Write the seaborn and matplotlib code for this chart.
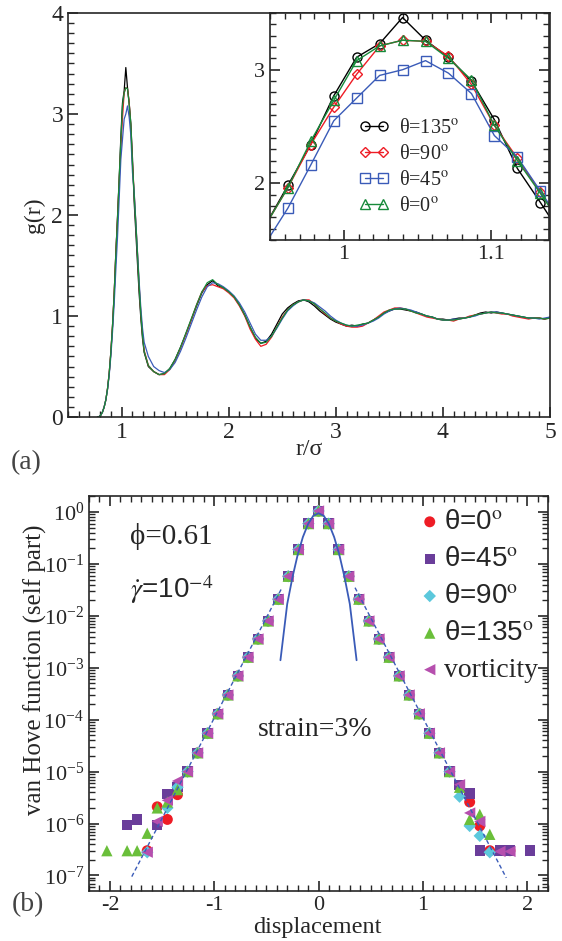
import numpy as np
import pandas as pd
import matplotlib
matplotlib.use("Agg")
import matplotlib.pyplot as plt
import seaborn as sns
from matplotlib.ticker import MultipleLocator, LogLocator, LogFormatterSciNotation, NullFormatter

# ---------------- data: panel (a) g(r) ----------------
r_head = [0.7755, 0.791, 0.8066, 0.8221, 0.8377, 0.8532, 0.8688, 0.8843, 0.8999, 0.9154, 0.931, 0.9465]
r_peak = [0.9621, 0.9776, 0.9932, 1.0087, 1.0243, 1.0398, 1.0554, 1.0709, 1.0865, 1.1020, 1.1176, 1.1332]
r_fall = [1.1487, 1.1643, 1.1798, 1.1954, 1.2110]
r_tail = [1.25, 1.30, 1.35, 1.40, 1.45, 1.50, 1.55, 1.60, 1.65, 1.70,
          1.75, 1.80, 1.85, 1.90, 1.95, 2.00, 2.05, 2.10, 2.15, 2.20,
          2.25, 2.30, 2.35, 2.40, 2.45, 2.50, 2.55, 2.60, 2.65, 2.70,
          2.75, 2.80, 2.85, 2.90, 2.95, 3.00, 3.05, 3.10, 3.15, 3.20,
          3.25, 3.30, 3.35, 3.40, 3.45, 3.50, 3.55, 3.60, 3.65, 3.70,
          3.75, 3.80, 3.85, 3.90, 3.95, 4.00, 4.05, 4.10, 4.15, 4.20,
          4.25, 4.30, 4.35, 4.40, 4.45, 4.50, 4.55, 4.60, 4.65, 4.70,
          4.75, 4.80, 4.85, 4.90, 4.95, 5.00]

g_head_135 = [0.0, 0.005, 0.02, 0.05, 0.10, 0.17, 0.28, 0.43, 0.64, 0.90, 1.22, 1.62]
g_head_90 = [0.0, 0.005, 0.02, 0.05, 0.10, 0.17, 0.28, 0.43, 0.64, 0.90, 1.22, 1.62]
g_head_45 = [0.0, 0.005, 0.02, 0.05, 0.10, 0.17, 0.27, 0.41, 0.60, 0.84, 1.12, 1.46]
g_head_0 = [0.0, 0.005, 0.02, 0.05, 0.10, 0.17, 0.28, 0.43, 0.64, 0.90, 1.22, 1.62]

g_peak_135 = [1.98, 2.34, 2.77, 3.11, 3.23, 3.46, 3.26, 3.11, 2.90, 2.56, 2.13, 1.83]
g_peak_90 = [1.96, 2.34, 2.67, 2.96, 3.21, 3.26, 3.25, 3.12, 2.87, 2.51, 2.22, 1.92]
g_peak_45 = [1.78, 2.16, 2.55, 2.75, 2.95, 3.00, 3.08, 2.97, 2.79, 2.42, 2.23, 1.93]
g_peak_0 = [1.96, 2.37, 2.73, 3.08, 3.21, 3.26, 3.25, 3.10, 2.91, 2.51, 2.20, 1.91]

g_fall_135 = [1.52, 1.22, 0.98, 0.78, 0.64]
g_fall_90 = [1.62, 1.30, 1.03, 0.82, 0.66]
g_fall_45 = [1.63, 1.34, 1.08, 0.88, 0.74]
g_fall_0 = [1.61, 1.29, 1.02, 0.81, 0.65]

g_tail_135 = [0.50, 0.45, 0.42, 0.43, 0.48, 0.57, 0.69, 0.82, 0.96, 1.10,
              1.23, 1.31, 1.35, 1.30, 1.28, 1.24, 1.19, 1.11, 1.01, 0.89,
              0.78, 0.73, 0.75, 0.82, 0.92, 1.02, 1.08, 1.12, 1.15, 1.16,
              1.14, 1.10, 1.05, 1.01, 0.97, 0.94, 0.92, 0.90, 0.91, 0.90,
              0.92, 0.93, 0.96, 0.99, 1.03, 1.05, 1.07, 1.07, 1.06, 1.05,
              1.04, 1.02, 1.00, 0.99, 0.97, 0.97, 0.96, 0.97, 0.98, 0.98,
              0.99, 1.01, 1.03, 1.04, 1.03, 1.04, 1.03, 1.02, 1.01, 1.00,
              0.99, 0.98, 0.98, 0.98, 0.97, 0.99]
g_tail_90 = [0.51, 0.45, 0.42, 0.42, 0.47, 0.56, 0.68, 0.82, 0.96, 1.11,
             1.24, 1.30, 1.31, 1.29, 1.27, 1.23, 1.18, 1.10, 1.00, 0.87,
             0.77, 0.70, 0.72, 0.79, 0.89, 0.99, 1.06, 1.11, 1.14, 1.16,
             1.16, 1.12, 1.07, 1.02, 0.98, 0.95, 0.92, 0.90, 0.89, 0.89,
             0.90, 0.93, 0.96, 1.00, 1.04, 1.06, 1.08, 1.08, 1.07, 1.05,
             1.03, 1.01, 0.99, 0.98, 0.97, 0.96, 0.96, 0.95, 0.97, 0.98,
             1.00, 1.01, 1.02, 1.03, 1.04, 1.03, 1.02, 1.02, 1.00, 0.99,
             0.98, 0.97, 0.98, 0.98, 0.97, 0.98]
g_tail_45 = [0.60, 0.50, 0.46, 0.44, 0.47, 0.54, 0.65, 0.78, 0.92, 1.06,
             1.19, 1.29, 1.33, 1.32, 1.29, 1.25, 1.20, 1.13, 1.04, 0.93,
             0.82, 0.76, 0.76, 0.80, 0.88, 0.97, 1.05, 1.10, 1.14, 1.16,
             1.15, 1.13, 1.09, 1.05, 1.00, 0.96, 0.93, 0.91, 0.90, 0.90,
             0.91, 0.93, 0.95, 0.98, 1.02, 1.05, 1.07, 1.08, 1.07, 1.06,
             1.04, 1.02, 1.00, 0.99, 0.97, 0.96, 0.96, 0.97, 0.97, 0.98,
             0.99, 1.00, 1.02, 1.03, 1.04, 1.04, 1.03, 1.02, 1.01, 1.00,
             0.99, 0.98, 0.98, 0.97, 0.98, 0.99]
g_tail_0 = [0.51, 0.45, 0.42, 0.43, 0.48, 0.57, 0.69, 0.83, 0.97, 1.11,
            1.24, 1.33, 1.36, 1.31, 1.28, 1.24, 1.19, 1.11, 1.01, 0.89,
            0.79, 0.73, 0.74, 0.80, 0.89, 0.98, 1.06, 1.11, 1.14, 1.16,
            1.15, 1.12, 1.07, 1.03, 0.98, 0.95, 0.93, 0.91, 0.90, 0.91,
            0.92, 0.93, 0.96, 0.99, 1.03, 1.06, 1.07, 1.07, 1.07, 1.05,
            1.03, 1.02, 1.00, 0.99, 0.97, 0.96, 0.96, 0.96, 0.97, 0.98,
            0.99, 1.01, 1.02, 1.03, 1.04, 1.03, 1.03, 1.02, 1.01, 1.00,
            0.99, 0.98, 0.98, 0.98, 0.97, 0.98]

gr_labels = ["θ=135", "θ=90", "θ=45", "θ=0"]
gr_colors = ["#000000", "#ee1c25", "#3a5bb8", "#178a3a"]
gr_markers = ["o", "D", "s", "^"]

# ---------------- data: panel (b) van Hove ----------------
center_x = [-1.256, -1.159, -1.063, -0.966, -0.869, -0.773, -0.676, -0.580, -0.483,
            -0.386, -0.290, -0.193, -0.097, 0.0, 0.097, 0.193, 0.290, 0.386,
            0.483, 0.580, 0.676, 0.773, 0.869, 0.966, 1.063, 1.159, 1.256]
center_y = [1.0e-5, 2.3e-5, 5.5e-5, 1.3e-4, 3.0e-4, 7.0e-4, 1.6e-3, 3.6e-3, 8.0e-3,
            2.1e-2, 5.8e-2, 0.19, 0.60, 1.05, 0.60, 0.19, 5.8e-2, 2.1e-2,
            8.0e-3, 3.6e-3, 1.6e-3, 7.0e-4, 3.0e-4, 1.3e-4, 5.5e-5, 2.3e-5, 1.0e-5]

tail_x_0 = [-1.642, -1.546, -1.449, -1.352, 1.352, 1.449, 1.546, 1.642, 1.835]
tail_y_0 = [3.0e-7, 2.1e-6, 1.2e-6, 3.6e-6, 5.2e-6, 2.6e-6, 9.0e-7, 3.0e-7, 3.0e-7]
tail_x_45 = [-1.835, -1.739, -1.546, -1.449, -1.352, 1.352, 1.449, 1.546, 1.739, 1.835, 2.029]
tail_y_45 = [9.5e-7, 1.2e-6, 9.5e-7, 3.7e-6, 5.0e-6, 5.5e-6, 3.8e-6, 3.0e-7, 3.0e-7, 3.0e-7, 3.0e-7]
tail_x_90 = [-1.642, -1.449, -1.352, 1.352, 1.449, 1.546, 1.642]
tail_y_90 = [2.8e-7, 2.0e-6, 5.0e-6, 3.3e-6, 9.0e-7, 5.8e-7, 2.8e-7]
tail_x_135 = [-2.029, -1.835, -1.739, -1.642, -1.546, -1.449, -1.352, 1.352, 1.449, 1.546, 1.642]
tail_y_135 = [3.0e-7, 3.0e-7, 3.0e-7, 6.5e-7, 2.0e-6, 2.6e-6, 4.5e-6, 5.0e-6, 1.2e-6, 1.5e-6, 6.2e-7]
tail_x_vort = [-1.642, -1.546, -1.449, -1.352, 1.352, 1.449, 1.546, 1.739, 1.835]
tail_y_vort = [2.8e-7, 1.1e-6, 2.8e-6, 6.6e-6, 5.6e-6, 1.6e-6, 1.1e-6, 2.9e-7, 2.9e-7]

vh_labels = ["θ=0", "θ=45", "θ=90", "θ=135", "vorticity"]
vh_colors = ["#ee1c25", "#6a3d9a", "#5cc8dc", "#6abf3a", "#b64fae"]
vh_markers = ["o", "s", "D", "^", "<"]

gauss_x = [-0.365, -0.30, -0.25, -0.20, -0.15, -0.10, -0.05, 0.0, 0.05, 0.10, 0.15, 0.20, 0.25, 0.30, 0.365]
gauss_y = [1.4e-3, 1.7e-2, 5.5e-2, 0.15, 0.33, 0.59, 0.85, 0.95, 0.85, 0.59, 0.33, 0.15, 5.5e-2, 1.7e-2, 1.4e-3]
expo_left_x = [-1.79, -0.35]
expo_left_y = [9.5e-8, 3.5e-2]
expo_right_x = [0.35, 1.80]
expo_right_y = [3.5e-2, 9.0e-8]

# ---------------- style ----------------
sns.set_style("ticks")
plt.rcParams["font.family"] = ["Liberation Serif", "DejaVu Serif"]
plt.rcParams["mathtext.fontset"] = "stix"
plt.rcParams["axes.unicode_minus"] = False
plt.rcParams["axes.linewidth"] = 1.2

SANS = ["Liberation Sans", "DejaVu Sans"]

fig = plt.figure(figsize=(5.62, 9.41), dpi=100)
ax1 = fig.add_axes([0.121, 0.5568, 0.8577, 0.4294])
axin = fig.add_axes([0.4804, 0.745, 0.4964, 0.2412])
ax2 = fig.add_axes([0.1584, 0.0531, 0.8167, 0.4198])

heads = [g_head_135, g_head_90, g_head_45, g_head_0]
peaks = [g_peak_135, g_peak_90, g_peak_45, g_peak_0]
falls = [g_fall_135, g_fall_90, g_fall_45, g_fall_0]
tails = [g_tail_135, g_tail_90, g_tail_45, g_tail_0]
r_all = r_head + r_peak + r_fall + r_tail

for lab, col, h, p, f, t in zip(gr_labels, gr_colors, heads, peaks, falls, tails):
    df = pd.DataFrame({"r": r_all, "g": h + p + f + t})
    sns.lineplot(data=df, x="r", y="g", ax=ax1, color=col, lw=0.9, sort=False, estimator=None)

ax1.set_xlim(0.5, 5)
ax1.set_ylim(0, 4)
ax1.xaxis.set_major_locator(MultipleLocator(1))
ax1.xaxis.set_minor_locator(MultipleLocator(0.1))
ax1.yaxis.set_major_locator(MultipleLocator(1))
ax1.yaxis.set_minor_locator(MultipleLocator(0.1))
ax1.tick_params(which="both", direction="in", top=False, right=False, labelsize=17, width=1.2)
ax1.tick_params(which="major", length=7)
ax1.tick_params(which="minor", length=4, width=1.0)
ax1.set_xlabel("r/σ", fontsize=17)
ax1.set_ylabel("g(r)", fontsize=17)
ax1.xaxis.set_label_coords(0.5, -0.055)
ax1.yaxis.set_label_coords(-0.048, 0.5)

# inset
axin.set_facecolor("white")
r_in = r_head[-1:] + r_peak + r_fall[:1]
for lab, col, mk, h, p, f in zip(gr_labels, gr_colors, gr_markers, heads, peaks, falls):
    df = pd.DataFrame({"r": r_in, "g": h[-1:] + p + f[:1]})
    sns.lineplot(data=df, x="r", y="g", ax=axin, color=col, lw=1.0, sort=False, estimator=None,
                 marker=mk, markersize=6.5 if mk != "D" else 5.5, markerfacecolor="none",
                 markeredgecolor=col, markeredgewidth=1.0, label=lab + "$^{\\rm o}$")
axin.set_xlim(0.95, 1.139)
axin.set_ylim(1.5, 3.5)
axin.xaxis.set_major_locator(MultipleLocator(0.1))
axin.xaxis.set_minor_locator(MultipleLocator(0.01))
axin.yaxis.set_major_locator(MultipleLocator(1))
axin.yaxis.set_minor_locator(MultipleLocator(0.1))
axin.set_xticks([1.0, 1.1])
axin.set_xticklabels(["1", "1.1"])
axin.tick_params(which="both", direction="in", top=True, right=True, labelsize=16, width=1.2)
axin.tick_params(which="major", length=7)
axin.tick_params(which="minor", length=4, width=1.0)
axin.set_xlabel("")
axin.set_ylabel("")
leg1 = axin.legend(loc="upper left", bbox_to_anchor=(0.29, 0.57), frameon=False, fontsize=14.5,
                   numpoints=2, handlelength=1.5, handletextpad=0.5, labelspacing=0.35,
                   borderaxespad=0)

# panel (b)
xs = [tail_x_0, tail_x_45, tail_x_90, tail_x_135, tail_x_vort]
ys = [tail_y_0, tail_y_45, tail_y_90, tail_y_135, tail_y_vort]
sizes = [62, 56, 40, 66, 66]
for lab, col, mk, tx, ty, s in zip(vh_labels, vh_colors, vh_markers, xs, ys, sizes):
    xx = [v for v in tx if v < 0] + center_x + [v for v in tx if v > 0]
    yy = [b for a, b in zip(tx, ty) if a < 0] + center_y + [b for a, b in zip(tx, ty) if a > 0]
    df = pd.DataFrame({"x": xx, "y": yy})
    lbl = lab + "$^{\\rm o}$" if lab != "vorticity" else lab
    sns.scatterplot(data=df, x="x", y="y", ax=ax2, color=col, marker=mk, s=s,
                    edgecolor="none", linewidth=0, label=lbl, zorder=2)

sns.lineplot(x=gauss_x, y=gauss_y, ax=ax2, color="#3a5bb8", lw=1.3, sort=False, estimator=None, zorder=3)
sns.lineplot(x=expo_left_x, y=expo_left_y, ax=ax2, color="#3a5bb8", lw=1.0, sort=False,
             estimator=None, dashes=False, linestyle=(0, (3, 2)), zorder=3)
sns.lineplot(x=expo_right_x, y=expo_right_y, ax=ax2, color="#3a5bb8", lw=1.0, sort=False,
             estimator=None, dashes=False, linestyle=(0, (3, 2)), zorder=3)

ax2.set_yscale("log")
ax2.set_xlim(-2.2, 2.2)
ax2.set_ylim(10 ** -7.3, 10 ** 0.31)
ax2.xaxis.set_major_locator(MultipleLocator(1))
ax2.xaxis.set_minor_locator(MultipleLocator(0.1))
ax2.yaxis.set_major_locator(LogLocator(base=10, numticks=20))
ax2.yaxis.set_minor_locator(LogLocator(base=10, subs=np.arange(2, 10), numticks=20))
ax2.yaxis.set_major_formatter(LogFormatterSciNotation())
ax2.yaxis.set_minor_formatter(NullFormatter())
ax2.tick_params(which="both", direction="in", top=True, right=True, labelsize=16, width=1.2)
ax2.tick_params(which="major", length=7)
ax2.tick_params(which="minor", length=4, width=1.0)
ax2.set_xlabel("displacement", fontsize=17.5)
ax2.set_ylabel("van Hove function (self part)", fontsize=18)
ax2.xaxis.set_label_coords(0.497, -0.066)
ax2.yaxis.set_label_coords(-0.092, 0.56)

leg2 = ax2.legend(loc="upper left", bbox_to_anchor=(0.70, 0.995), frameon=False, fontsize=20,
                  handlelength=0.6, handletextpad=0.2, labelspacing=0.4, borderaxespad=0,
                  markerscale=1.0)
for t in leg2.get_texts()[:4]:
    t.set_fontfamily(SANS)

fig.text(130 / 562, 1 - 537 / 941, "ϕ=0.61", fontsize=21, ha="left", va="center")
fig.text(130 / 562, 1 - 590 / 941, "$\\dot{\\gamma}$=10$^{-4}$", fontsize=20, ha="left", va="center",
         family=SANS)
fig.text(258 / 562, 1 - 729 / 941, "strain=3%", fontsize=20, ha="left", va="center")
fig.text(26 / 562, 1 - 463 / 941, "(a)", fontsize=20, ha="center", va="center", color="#444444")
fig.text(28 / 562, 1 - 905 / 941, "(b)", fontsize=20, ha="center", va="center", color="#444444")

fig.savefig("out.png", dpi=100)
